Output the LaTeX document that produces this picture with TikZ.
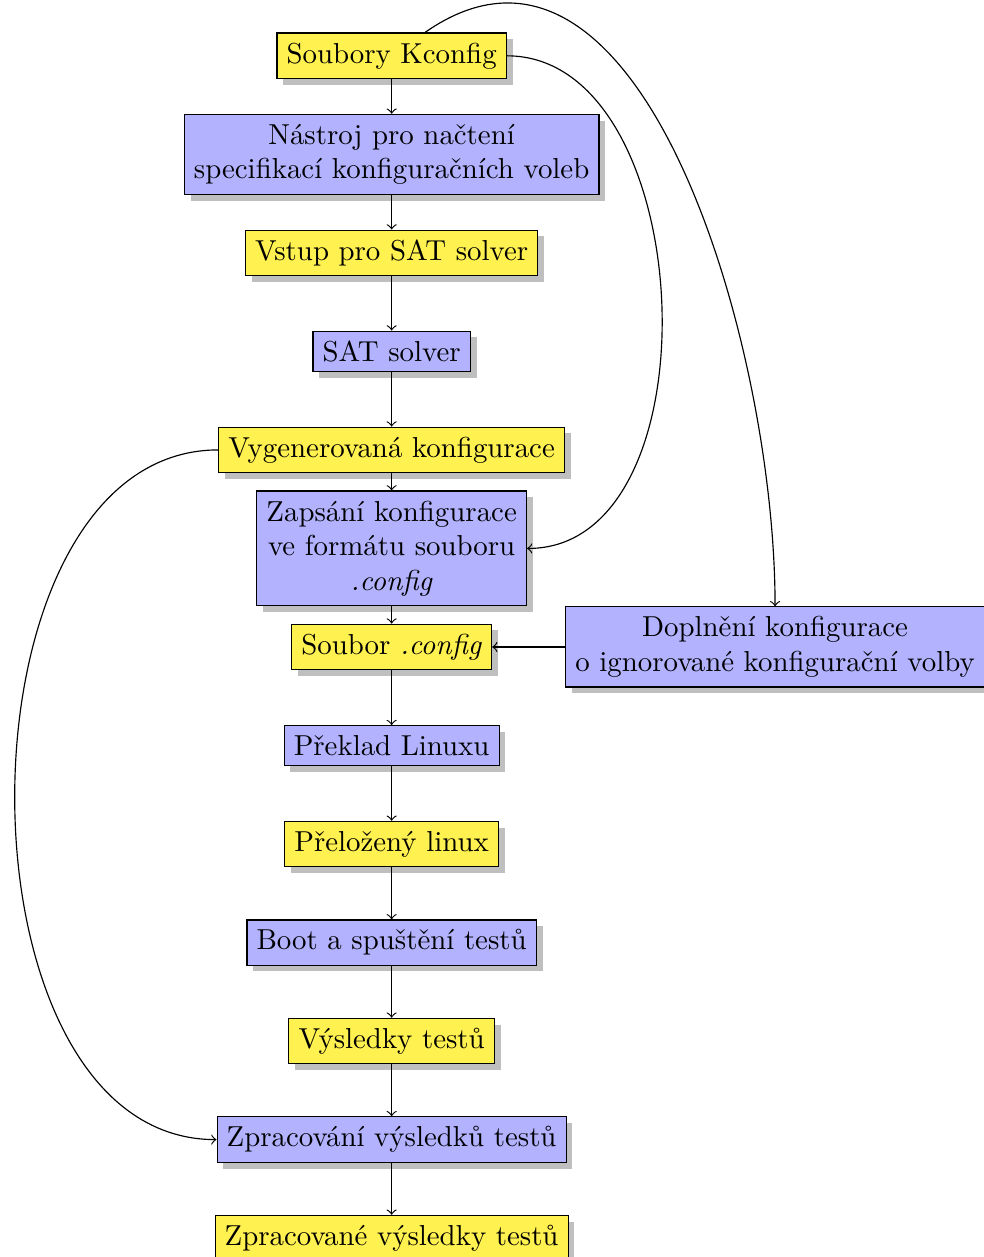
\documentclass[tikz,border=0pt]{standalone}
\usepackage{fontspec}
\usepackage{tikz}
\usetikzlibrary{shapes,shadows}
\definecolor{zluta}{RGB}{255,241,80}

\begin{document}
\begin{tikzpicture}[data/.style={draw,fill=zluta,drop shadow,align=center}, krok/.style={draw,fill=blue!30,drop shadow,align=center}]
         \useasboundingbox (-4.77,0.68) rectangle (7.21,-14.63);
         \node[data] (kconfig) at (0, 0) {Soubory Kconfig};
         \node[krok] (nacteni) at (0, -1.2) {Nástroj pro načtení \\ specifikací konfiguračních voleb};
         \node[data] (vstup) at (0, -2.4) {Vstup pro SAT solver};
         \node[krok] (solver) at (0, -3.6) {SAT solver};
         \node[data] (vygen) at (0, -4.8) {Vygenerovaná konfigurace};
         \node[krok] (zapis) at (0, -6) {Zapsání konfigurace \\ ve formátu souboru \\ \textit{.config}};
         \node[data] (config) at (0, -7.2) {Soubor \textit{.config}};
         \node[krok] (doplneni) at (4.67, -7.2) {Doplnění konfigurace \\ o ignorované konfigurační volby};
         \node[krok] (preklad) at (0, -8.4) {Překlad Linuxu};
         \node[data] (linux) at (0, -9.6) {Přeložený linux};
         \node[krok] (boot) at (0, -10.8) {Boot a spuštění testů};
         \node[data] (vysledky) at (0, -12) {Výsledky testů};
         \node[krok] (zpracovani) at (0, -13.2) {Zpracování výsledků testů};
         \node[data] (zpracovane) at (0, -14.4) {Zpracované výsledky testů};
         \foreach \a/\b in {kconfig/nacteni, nacteni/vstup, vstup/solver, solver/vygen, vygen/zapis, zapis/config, config/preklad, preklad/linux, linux/boot, boot/vysledky, vysledky/zpracovani, zpracovani/zpracovane}
            \draw[->] (\a) -- (\b);
         \draw[->] (doplneni) -- (config);
         \draw[->] (kconfig) to[out=35, in=90] (doplneni);
         \draw[->] (kconfig) to[out=0, in=0] (zapis);
         \draw[->] (vygen) to[out=180, in=180] (zpracovani);
 \end{tikzpicture}
\end{document}
